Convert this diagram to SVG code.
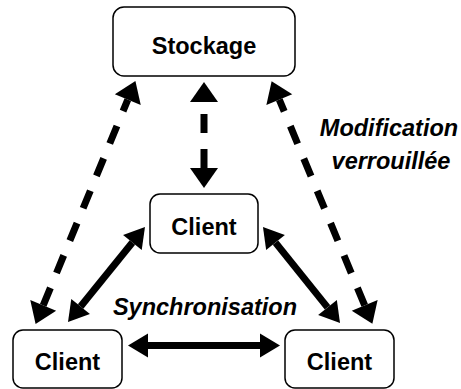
<svg xmlns="http://www.w3.org/2000/svg" width="461" height="389" viewBox="0 0 461 389">
<style>
.box{fill:#fff;stroke:#000;stroke-width:1.5}
.lbl{font-family:"Liberation Sans",Arial,sans-serif;font-weight:bold;font-size:23.5px;text-anchor:middle;fill:#000}
.it{font-style:italic}
.solid{stroke:#000;stroke-width:7;fill:none;marker-start:url(#hs);marker-end:url(#hs)}
.dash{stroke:#000;stroke-width:7;fill:none;stroke-dasharray:19 16;marker-start:url(#hd);marker-end:url(#hd)}
</style>
<defs>
<marker id="hs" markerUnits="userSpaceOnUse" viewBox="0 -13 21 26" refX="0" refY="0" markerWidth="21" markerHeight="26" orient="auto-start-reverse" overflow="visible">
<path d="M0,-12 L20,0 L0,12 Z" fill="#000"/>
</marker>
<marker id="hd" markerUnits="userSpaceOnUse" viewBox="0 -15 21 30" refX="0" refY="0" markerWidth="21" markerHeight="30" orient="auto-start-reverse" overflow="visible">
<path d="M0,-14 L20,0 L0,14 Z" fill="#000"/>
</marker>
</defs>
<rect width="461" height="389" fill="#fff"/>
<g id="connectors">
<line class="dash" x1="43.2" y1="305.4" x2="127.8" y2="99.6"/>
<line class="dash" x1="364.7" y1="305.4" x2="279.3" y2="99.6"/>
<line class="dash" x1="204" y1="168" x2="204" y2="102"/>
<line class="solid" x1="132.4" y1="242.5" x2="80.6" y2="306.5"/>
<line class="solid" x1="275.5" y1="242.6" x2="327.5" y2="307.4"/>
<line class="solid" x1="148" y1="345.5" x2="260" y2="345.5"/>
</g>
<g id="stockage">
<rect class="box" x="113" y="7" width="182" height="69" rx="11"/>
<text class="lbl" x="204" y="54">Stockage</text>
</g>
<g id="client-top">
<rect class="box" x="150" y="194" width="108" height="59" rx="10"/>
<text class="lbl" x="204" y="235">Client</text>
</g>
<g id="client-left">
<rect class="box" x="13" y="330" width="109" height="58" rx="10"/>
<text class="lbl" x="67.5" y="370">Client</text>
</g>
<g id="client-right">
<rect class="box" x="285" y="330" width="109" height="58" rx="10"/>
<text class="lbl" x="339.5" y="370">Client</text>
</g>
<g id="labels">
<text class="lbl it" x="389" y="136">Modification</text>
<text class="lbl it" x="391" y="169">verrouillée</text>
<text class="lbl it" x="205" y="315">Synchronisation</text>
</g>
</svg>
